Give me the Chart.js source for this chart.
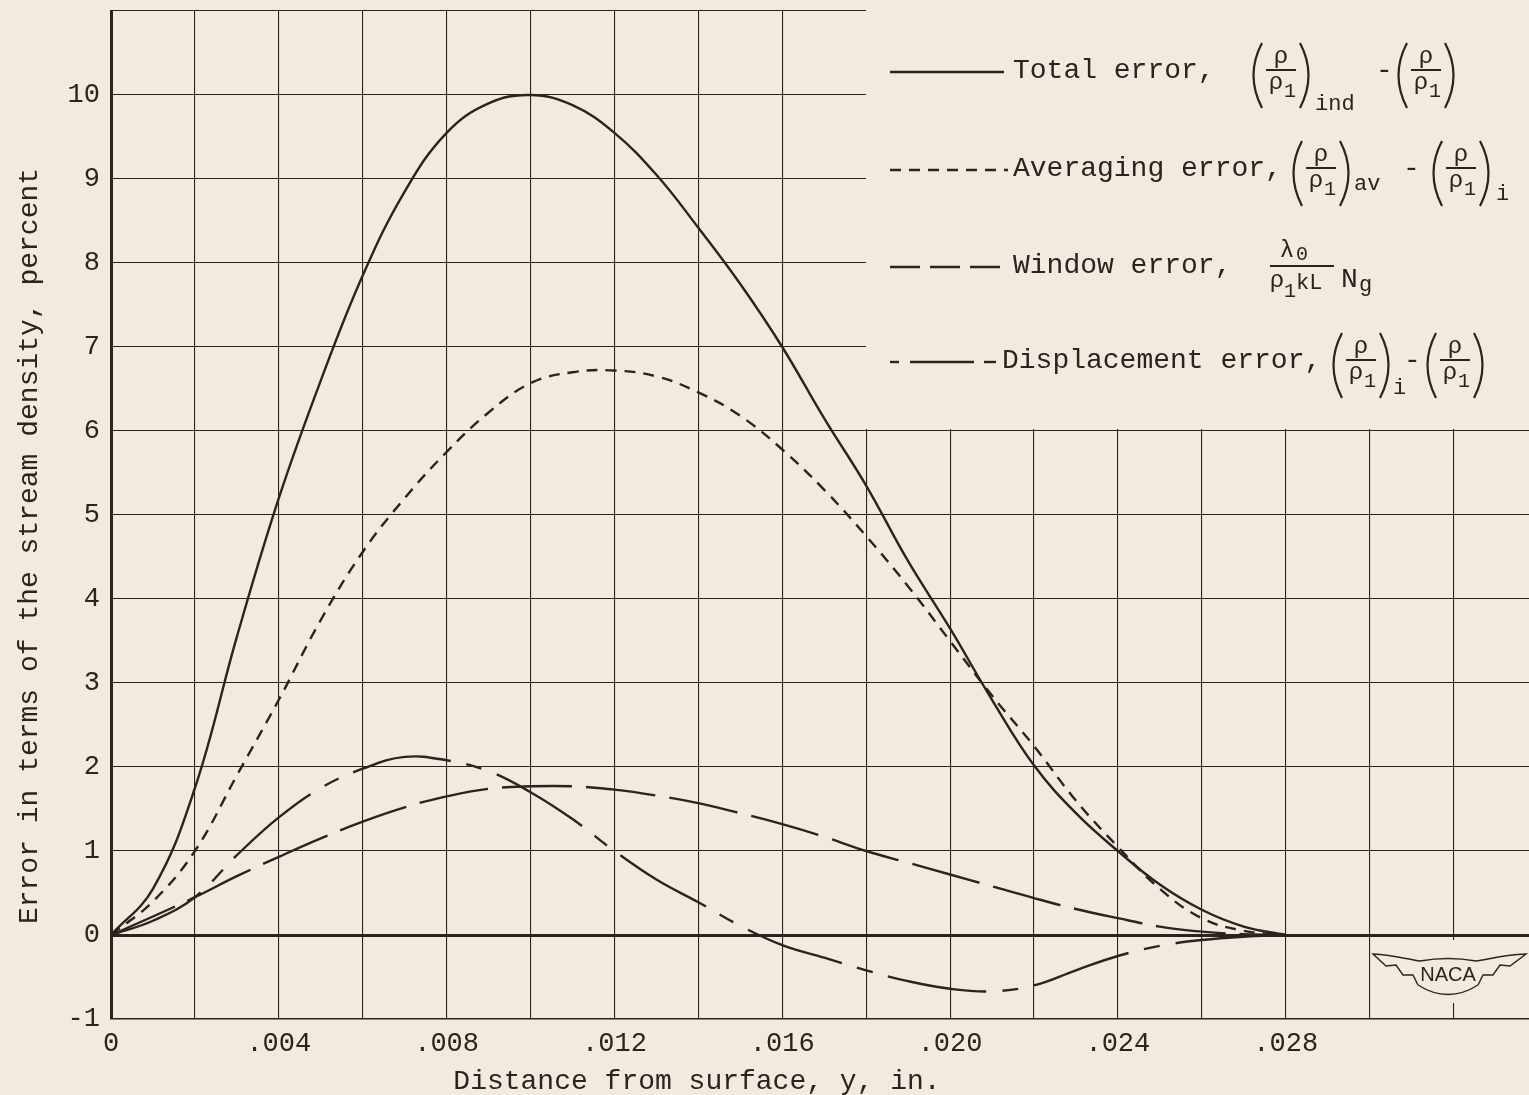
<!DOCTYPE html>
<html>
<head>
<meta charset="utf-8">
<title>Error in terms of the stream density</title>
<script src="https://cdn.jsdelivr.net/npm/chart.js@4.4.1/dist/chart.umd.min.js"></script>
<style>
  html, body { margin: 0; padding: 0; background: #f3eadf; overflow: hidden; }
  canvas { display: block; }
</style>
</head>
<body>
<canvas id="chart" width="1529" height="1095"></canvas>
<script>
// distance from surface, y, in.
const distance = [0, 0.001, 0.002, 0.003, 0.004, 0.005, 0.006, 0.007, 0.008, 0.009,
  0.010, 0.011, 0.012, 0.013, 0.014, 0.015, 0.016, 0.017, 0.018, 0.019,
  0.020, 0.021, 0.022, 0.023, 0.024, 0.025, 0.026, 0.027, 0.028];

// error, percent
const totalError = [0, 0.55, 1.75, 3.55, 5.2, 6.6, 7.85, 8.85, 9.55, 9.9,
  10.0, 9.88, 9.55, 9.05, 8.42, 7.75, 7.0, 6.15, 5.35, 4.45,
  3.65, 2.8, 2.02, 1.45, 1.0, 0.6, 0.3, 0.1, 0];
const averagingError = [0, 0.4, 1.0, 1.9, 2.8, 3.75, 4.56, 5.2, 5.75, 6.22,
  6.57, 6.7, 6.72, 6.65, 6.46, 6.18, 5.78, 5.3, 4.75, 4.15,
  3.5, 2.85, 2.25, 1.6, 1.05, 0.55, 0.2, 0.05, 0];
const windowError = [0, 0.22, 0.45, 0.7, 0.93, 1.15, 1.35, 1.52, 1.65, 1.74,
  1.77, 1.77, 1.73, 1.66, 1.57, 1.45, 1.32, 1.17, 1.0, 0.86,
  0.72, 0.58, 0.44, 0.31, 0.2, 0.1, 0.04, 0.01, 0];
const displacementError = [0, 0.17, 0.45, 0.95, 1.4, 1.75, 1.98, 2.12, 2.08, 1.95,
  1.7, 1.38, 1.0, 0.66, 0.39, 0.11, -0.12, -0.27, -0.42, -0.55,
  -0.64, -0.67, -0.6, -0.42, -0.25, -0.13, -0.06, -0.02, 0];

const xTickValues = [0, 0.004, 0.008, 0.012, 0.016, 0.020, 0.024, 0.028];
const xTickLabels = ['0', '.004', '.008', '.012', '.016', '.020', '.024', '.028'];
const yTickValues = [-1, 0, 1, 2, 3, 4, 5, 6, 7, 8, 9, 10];

const paper = '#f3eadf';
const ink = '#2a231f';
const typeFont = '"Liberation Mono", "Courier New", monospace';

function series(values) {
  return values.map((v, i) => ({ x: distance[i], y: v }));
}

function line(label, values, dash) {
  return {
    label,
    data: series(values),
    borderColor: ink,
    borderWidth: 2.4,
    borderDash: dash,
    pointRadius: 0,
    fill: false,
    tension: 0.4
  };
}

// paper colour behind everything
const paperPlugin = {
  id: 'paper',
  beforeDraw(chart) {
    const ctx = chart.ctx;
    ctx.save();
    ctx.fillStyle = paper;
    ctx.fillRect(0, 0, chart.width, chart.height);
    ctx.restore();
  }
};

// the legend sits on a blank patch of the grid
const blankPlugin = {
  id: 'blank',
  beforeDatasetsDraw(chart) {
    const ctx = chart.ctx;
    ctx.save();
    ctx.fillStyle = paper;
    ctx.fillRect(866, 0, chart.width - 866, 429);
    ctx.fillRect(1372, 940, chart.width - 1372, 63);
    ctx.restore();
  }
};

function parenFrac(ctx, x0, barY) {
  ctx.lineWidth = 2.2;
  ctx.beginPath();
  ctx.moveTo(x0 + 12, barY - 27);
  ctx.quadraticCurveTo(x0 - 5, barY + 5, x0 + 12, barY + 38);
  ctx.stroke();
  ctx.beginPath();
  ctx.moveTo(x0 + 50, barY - 27);
  ctx.quadraticCurveTo(x0 + 67, barY + 5, x0 + 50, barY + 38);
  ctx.stroke();
  const cx = x0 + 31;
  ctx.lineWidth = 2;
  ctx.beginPath();
  ctx.moveTo(cx - 15, barY);
  ctx.lineTo(cx + 15, barY);
  ctx.stroke();
  ctx.textAlign = 'center';
  ctx.textBaseline = 'alphabetic';
  ctx.font = '24px ' + typeFont;
  ctx.fillText('ρ', cx, barY - 7);
  ctx.fillText('ρ', cx - 5, barY + 19);
  ctx.font = '20px ' + typeFont;
  ctx.fillText('1', cx + 9, barY + 27);
  return x0 + 62;
}

const legendPlugin = {
  id: 'paperLegend',
  afterDraw(chart) {
    const ctx = chart.ctx;
    ctx.save();
    ctx.strokeStyle = ink;
    ctx.fillStyle = ink;
    ctx.lineCap = 'butt';

    const sample = (y, dash, x1, x2) => {
      ctx.lineWidth = 2.4;
      ctx.setLineDash(dash);
      ctx.beginPath();
      ctx.moveTo(x1, y);
      ctx.lineTo(x2, y);
      ctx.stroke();
      ctx.setLineDash([]);
    };
    const text = (s, x, y, size, align) => {
      ctx.font = size + 'px ' + typeFont;
      ctx.textAlign = align || 'left';
      ctx.textBaseline = 'alphabetic';
      ctx.fillText(s, x, y);
    };

    // Total error
    let r = 70;
    sample(r + 2, [], 890, 1004);
    text('Total error,', 1013, r + 8, 28);
    parenFrac(ctx, 1250, r);
    text('ind', 1315, r + 40, 22);
    text('-', 1376, r + 8, 28);
    parenFrac(ctx, 1395, r);

    // Averaging error
    r = 168;
    sample(r + 2, [11, 8], 890, 1008);
    text('Averaging error,', 1013, r + 8, 28);
    parenFrac(ctx, 1290, r);
    text('av', 1354, r + 22, 22);
    text('-', 1403, r + 8, 28);
    parenFrac(ctx, 1430, r);
    text('i', 1496, r + 32, 22);

    // Window error
    r = 265;
    sample(r + 2, [30, 10], 890, 1010);
    text('Window error,', 1013, r + 8, 28);
    ctx.lineWidth = 2;
    ctx.beginPath();
    ctx.moveTo(1270, r + 1);
    ctx.lineTo(1334, r + 1);
    ctx.stroke();
    text('λ', 1287, r - 8, 24, 'center');
    text('0', 1302, r - 5, 20, 'center');
    text('ρ', 1277, r + 22, 24, 'center');
    text('1', 1290, r + 32, 20, 'center');
    text('kL', 1296, r + 24, 22);
    text('N', 1341, r + 22, 28);
    text('g', 1359, r + 26, 22);

    // Displacement error
    r = 360;
    sample(r + 2, [], 890, 899);
    sample(r + 2, [], 910, 974);
    sample(r + 2, [], 984, 996);
    text('Displacement error,', 1002, r + 8, 28);
    parenFrac(ctx, 1330, r);
    text('i', 1393, r + 34, 22);
    text('-', 1404, r + 8, 28);
    parenFrac(ctx, 1424, r);

    // axis titles
    text('Distance from surface, y, in.', 697, 1089, 28, 'center');
    ctx.save();
    ctx.translate(37, 546);
    ctx.rotate(-Math.PI / 2);
    text('Error in terms of the stream density, percent', 0, 0, 28, 'center');
    ctx.restore();

    // NACA wings
    ctx.lineWidth = 1.4;
    ctx.beginPath();
    ctx.moveTo(1373, 954);
    ctx.bezierCurveTo(1395, 955, 1410, 960, 1420, 961);
    ctx.quadraticCurveTo(1448, 956, 1476, 961);
    ctx.bezierCurveTo(1486, 960, 1501, 955, 1526, 954);
    ctx.lineTo(1510, 966);
    ctx.lineTo(1500, 965);
    ctx.lineTo(1493, 975);
    ctx.lineTo(1483, 975);
    ctx.lineTo(1478, 985);
    ctx.quadraticCurveTo(1448, 1004, 1418, 985);
    ctx.lineTo(1413, 975);
    ctx.lineTo(1403, 975);
    ctx.lineTo(1396, 965);
    ctx.lineTo(1386, 966);
    ctx.closePath();
    ctx.fillStyle = paper;
    ctx.fill();
    ctx.stroke();
    ctx.fillStyle = ink;
    ctx.font = '20px "Liberation Sans", Arial, sans-serif';
    ctx.textAlign = 'center';
    ctx.textBaseline = 'middle';
    ctx.fillText('NACA', 1448, 975);

    ctx.restore();
  }
};

const ctx = document.getElementById('chart').getContext('2d');
new Chart(ctx, {
  type: 'line',
  data: {
    datasets: [
      line('Total error', totalError, []),
      line('Averaging error', averagingError, [11, 8]),
      line('Window error', windowError, [70, 14]),
      line('Displacement error', displacementError, [100, 16, 16, 16])
    ]
  },
  options: {
    responsive: false,
    animation: false,
    layout: { padding: { top: 11, right: 0, left: 0, bottom: 0 } },
    plugins: {
      legend: { display: false },
      tooltip: { enabled: false }
    },
    scales: {
      x: {
        type: 'linear',
        min: 0,
        max: 0.0338,
        afterFit(scale) { scale.height = 76; },
        border: { display: true, color: ink, width: 1.5 },
        grid: {
          color: ink,
          drawTicks: false,
          lineWidth: (c) => (c.tick && c.tick.value === 0 ? 3 : 1.1)
        },
        ticks: {
          stepSize: 0.002,
          includeBounds: false,
          autoSkip: false,
          maxRotation: 0,
          padding: 9,
          color: ink,
          font: { family: typeFont, size: 27 },
          callback: (value) => {
            const i = xTickValues.findIndex((t) => Math.abs(t - value) < 1e-9);
            return i >= 0 ? xTickLabels[i] : '';
          }
        }
      },
      y: {
        type: 'linear',
        min: -1,
        max: 11,
        afterFit(scale) {
          scale.width = 111;
          scale.paddingTop = 0;
        },
        border: { display: true, color: ink, width: 3 },
        grid: {
          color: ink,
          drawTicks: false,
          lineWidth: (c) => (c.tick && c.tick.value === 0 ? 3 : 1.1)
        },
        ticks: {
          stepSize: 1,
          padding: 11,
          color: ink,
          font: { family: typeFont, size: 27 },
          callback: (value) => (yTickValues.includes(value) ? String(value) : '')
        }
      }
    }
  },
  plugins: [paperPlugin, blankPlugin, legendPlugin]
});
</script>
</body>
</html>
